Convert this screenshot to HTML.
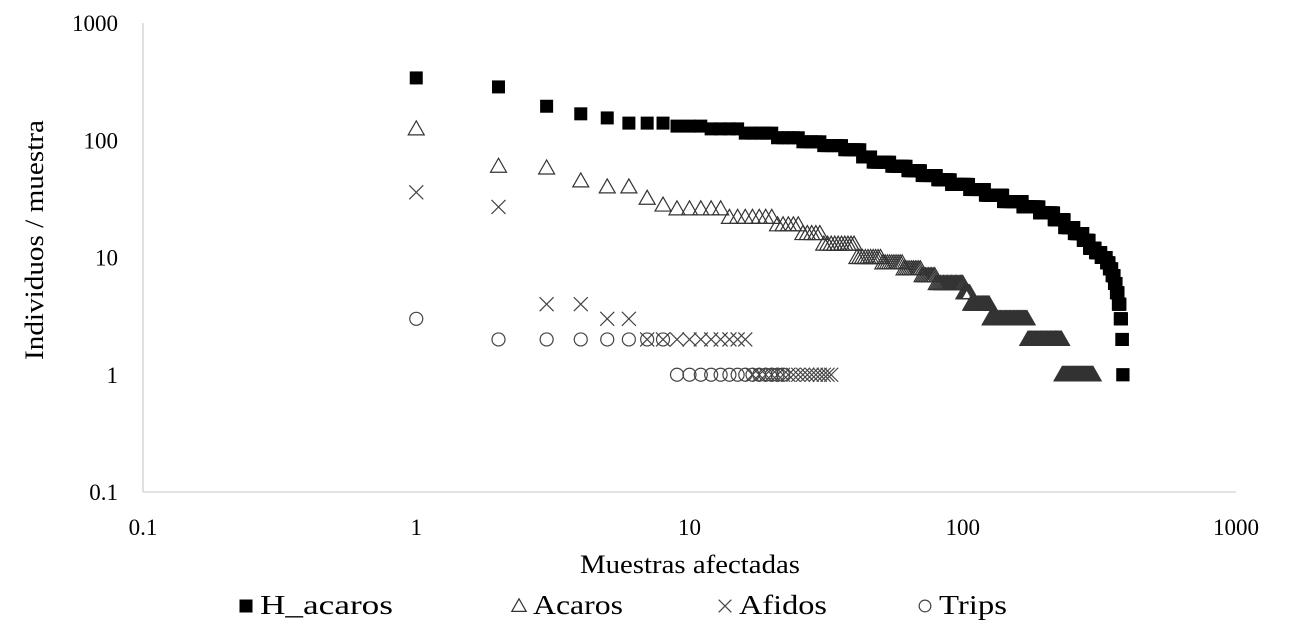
<!DOCTYPE html>
<html><head><meta charset="utf-8"><style>
html,body{margin:0;padding:0;background:#fff;}
svg{display:block;font-family:"Liberation Serif",serif;}
</style></head><body>
<svg id="chart" width="1309" height="637" viewBox="0 0 1309 637">
<g id="axes"></g><g id="marks"></g><g id="legend"></g>
</svg>
<script>
// ---- data (run-length encoded: value repeated count times, ranks from 1) ----
const hAcarosValues=[340,285,195,168,155,140,132,125,115,105,97,90,83,72,65,60,55,50,46,42,38,34,30,27,24,21,18,16,14,12,11,10,9,8,7,6,5,4,3,2,1];
const hAcarosCounts=[1,1,1,1,1,3,3,4,5,5,5,6,6,4,8,8,8,10,10,15,15,20,25,25,25,20,20,20,15,15,15,15,8,8,7,6,6,6,5,3,2];
const acarosValues=[125,60,58,45,40,40,32,28,26,22,19,16,13,10,9,8,7,6,5,4,3,2,1];
const acarosCounts=[1,1,1,1,1,1,1,1,5,7,5,5,10,10,10,10,9,21,6,19,47,58,70];
const afidosValues=[36,27,4,4,3,3,2,1];
const afidosCounts=[1,1,1,1,1,1,10,17];
const tripsValues=[3,2,1];
const tripsCounts=[1,7,14];
const xTicks=[0.1,1,10,100,1000];
const xTickLabels=["0.1","1","10","100","1000"];
const yTicks=[0.1,1,10,100,1000];
const yTickLabels=["0.1","1","10","100","1000"];

const NS="http://www.w3.org/2000/svg";
const L=143,R=1236,T=23,B=492;
function xs(v){return L+(Math.log10(v)+1)/4*(R-L);}
function ys(v){return B-(Math.log10(v)+1)/4*(B-T);}
function mk(tag,attrs,parent){const e=document.createElementNS(NS,tag);for(const k in attrs)e.setAttribute(k,attrs[k]);parent.appendChild(e);return e;}
const axes=document.getElementById('axes'),marks=document.getElementById('marks'),legend=document.getElementById('legend');

let e=mk('line',{x1:L,y1:T,x2:L,y2:B,stroke:'#d0d0d0','stroke-width':1.3},axes);


e=mk('line',{x1:L,y1:B,x2:R,y2:B,stroke:'#d0d0d0','stroke-width':1.3},axes);


xTicks.forEach((t,i)=>{const el=mk('text',{x:xs(t),y:535,'text-anchor':'middle','font-size':23,fill:'#000'},axes);el.textContent=xTickLabels[i];

});
yTicks.forEach((t,i)=>{const el=mk('text',{x:118,y:ys(t)+8,'text-anchor':'end','font-size':23,fill:'#000'},axes);el.textContent=yTickLabels[i];

});
e=mk('text',{x:580,y:573,'font-size':26,fill:'#000',textLength:220,lengthAdjust:'spacingAndGlyphs'},axes);e.textContent='Muestras  afectadas';


e=mk('text',{x:-360,y:0,'font-size':26,fill:'#000',textLength:240,lengthAdjust:'spacingAndGlyphs',transform:'translate(43,0) rotate(-90)'},axes);e.textContent='Individuos  /  muestra';



function drawMarker(kind,cx,cy,g,s){
  s=s||1;
  if(kind==='square')return mk('rect',{x:cx-6.5*s,y:cy-6.5*s,width:13*s,height:13*s,fill:'#000'},g);
  if(kind==='triangle')return mk('polygon',{points:`${cx},${cy-8*s} ${cx-8*s},${cy+6*s} ${cx+8*s},${cy+6*s}`,fill:'none',stroke:'#333','stroke-width':1.2},g);
  if(kind==='cross')return mk('path',{d:`M${cx-7*s},${cy-7*s}L${cx+7*s},${cy+7*s}M${cx+7*s},${cy-7*s}L${cx-7*s},${cy+7*s}`,stroke:'#444','stroke-width':1.2,fill:'none'},g);
  return mk('circle',{cx:cx,cy:cy,r:6.5*s,fill:'none',stroke:'#444','stroke-width':1.2},g);
}
function series(name,kind,vals,counts){
  const g=mk('g',{},marks);
  
  
  let r=1;
  vals.forEach((v,i)=>{for(let c=0;c<counts[i];c++){const m=drawMarker(kind,xs(r),ys(v),g);
    
    
    r++;}});
}
series('trips','circle',tripsValues,tripsCounts);
series('afidos','cross',afidosValues,afidosCounts);
series('acaros','triangle',acarosValues,acarosCounts);
series('h-acaros','square',hAcarosValues,hAcarosCounts);

const legendItems=[["square","H_acaros",246,133],["triangle","Acaros",519,90],["cross","Afidos",725,88],["circle","Trips",925,68]];
legendItems.forEach(it=>{
  const g=mk('g',{},legend);
  
  
  drawMarker(it[0],it[2],606,g,it[0]==='square'?1:0.9);
  const t=mk('text',{x:it[2]+14,y:614,'font-size':27,fill:'#000',textLength:it[3],lengthAdjust:'spacingAndGlyphs'},g);t.textContent=it[1];
});
</script>
</body></html>
